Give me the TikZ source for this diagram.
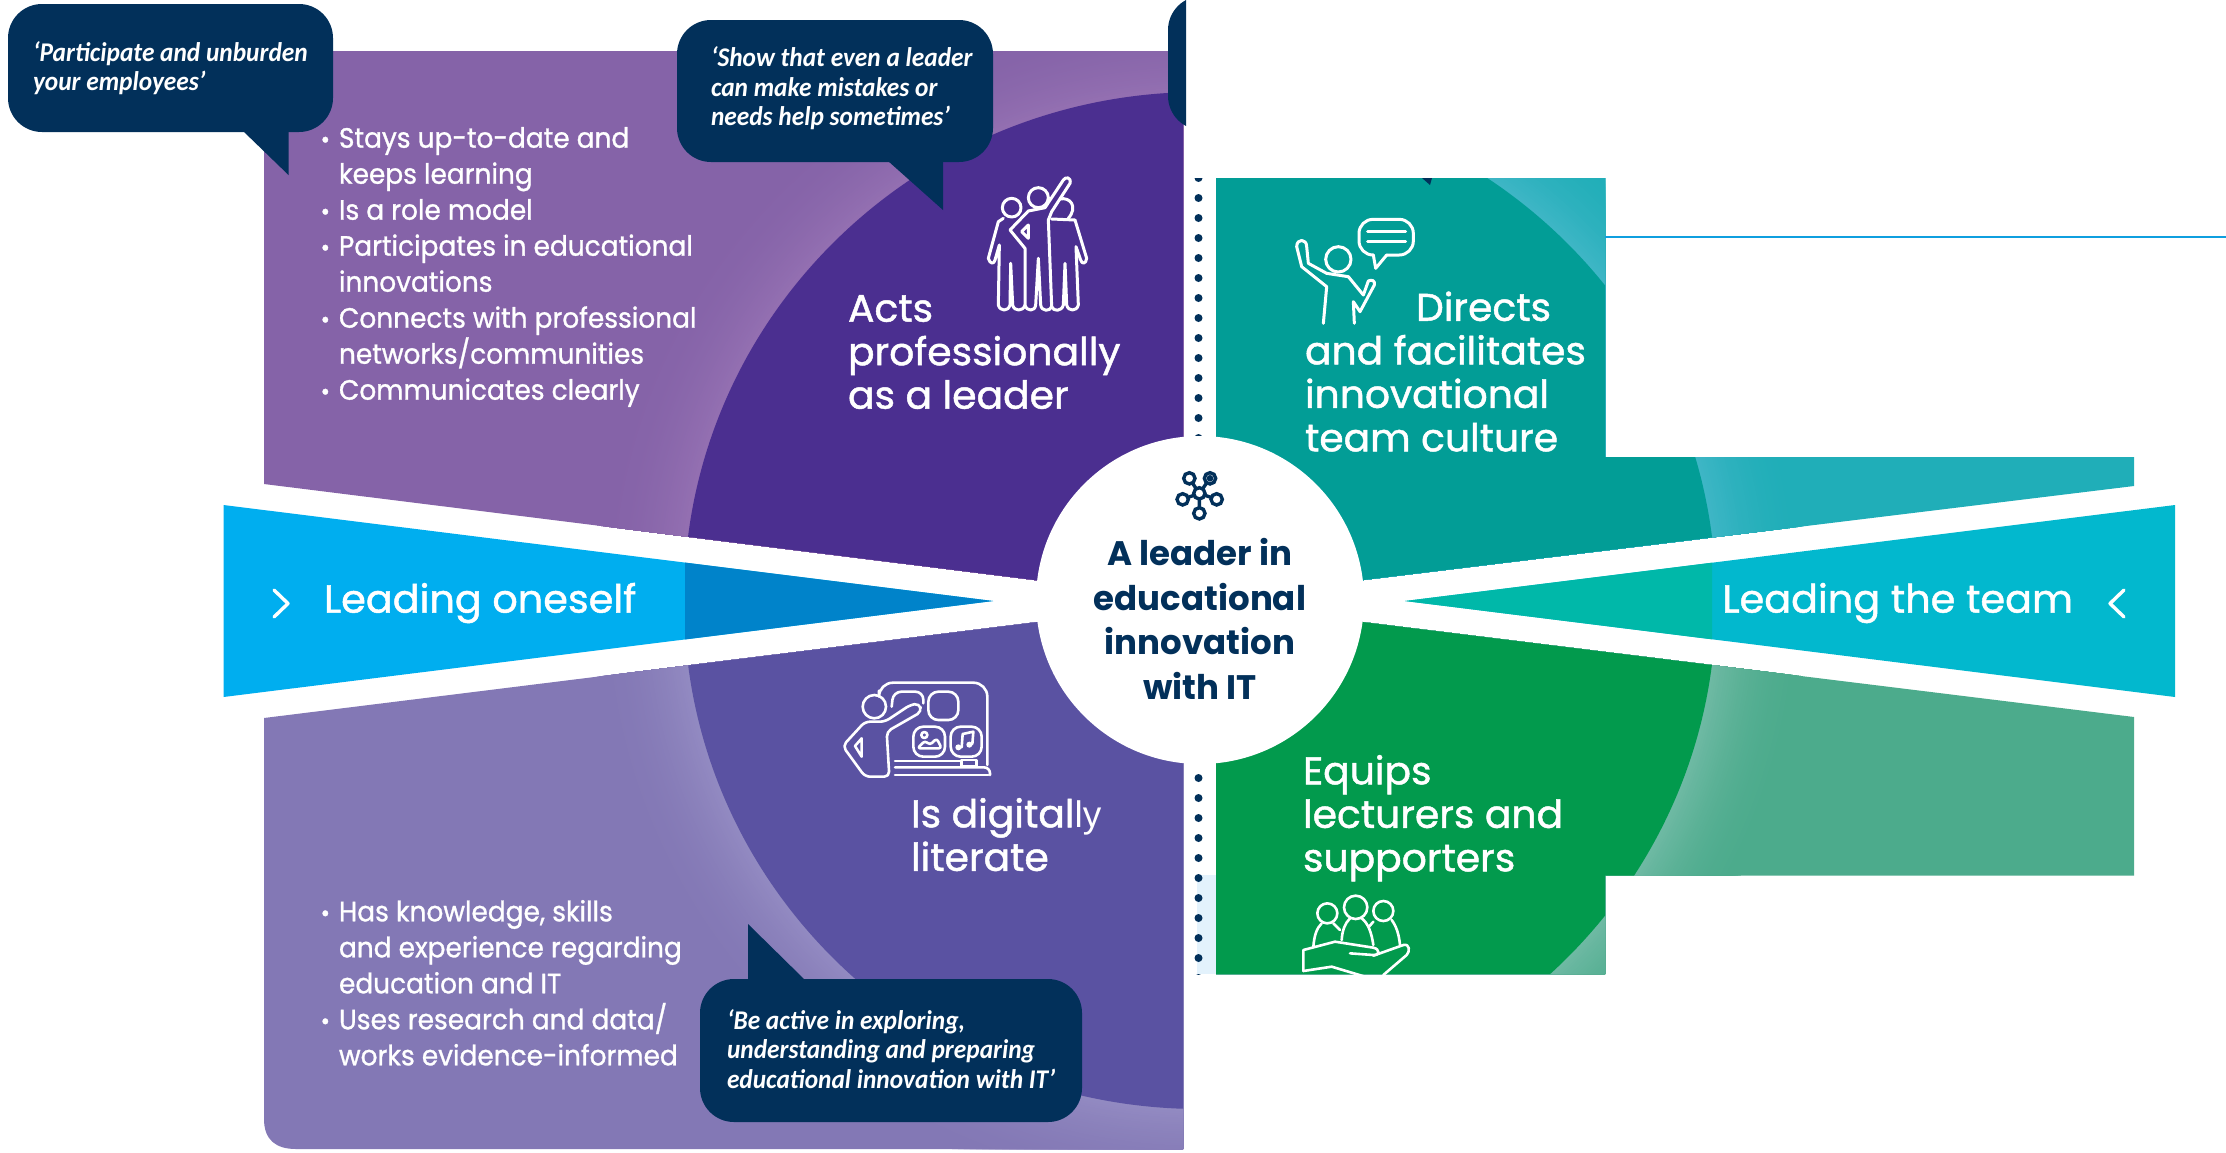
\documentclass[tikz,border=0pt]{standalone}
\usepackage{fontspec}
\setmainfont{Poppins}
\newfontfamily\headf[FakeBold=1.2,FakeStretch=1.02]{Poppins}
\newfontfamily\centf[FakeStretch=1.0]{Poppins}
\newfontfamily\bulf[FakeBold=1.0,FakeStretch=0.943]{Poppins}
\newfontfamily\thinf{Liberation Sans}
\newfontfamily\quotef[FakeStretch=0.94]{Carlito}
\definecolor{navy}{HTML}{02305A}
\definecolor{tlbase}{HTML}{8563A8}
\definecolor{tledge}{HTML}{9470B2}
\definecolor{tldark}{HTML}{4B2F90}
\definecolor{blbase}{HTML}{8378B5}
\definecolor{bledge}{HTML}{938BC2}
\definecolor{bldark}{HTML}{5A52A2}
\definecolor{trbase}{HTML}{20AEB8}
\definecolor{tredge}{HTML}{40B6C6}
\definecolor{trdark}{HTML}{029D96}
\definecolor{brbase}{HTML}{4CAB8C}
\definecolor{bredge}{HTML}{70BAA5}
\definecolor{brdark}{HTML}{029A4D}
\definecolor{stripblue}{HTML}{E3F2FC}
\definecolor{wedgeL}{HTML}{00AEEF}
\definecolor{wedgeLin}{HTML}{0083CA}
\definecolor{wedgeR}{HTML}{02B8CE}
\definecolor{wedgeRin}{HTML}{00B8A9}
\definecolor{ruleblue}{HTML}{0F9FDF}
\newcommand{\glowpanel}[3]{%
  \fill[#1] (-10,-10) rectangle (2240,1160);
  \foreach \rr in {40,39,...,1}{%
    \pgfmathtruncatemacro{\pp}{100*(1-\rr/40)*(1-\rr/40)}%
    \fill[#2!\pp!#1] (1200,600.5) ellipse[x radius=516+2.3*\rr,y radius=508.5+2.3*\rr];
  }%
  \fill[#3] (1200,600.5) ellipse[x radius=516,y radius=508.5];
}
\newcommand{\bul}{\llap{{\fontsize{24}{24}\selectfont\raisebox{0pt}{•}}\hspace{9pt}}}
\tikzset{
  head/.style={inner sep=0,outer sep=0,text=white,align=left,anchor=north west,font=\headf\fontsize{38.5}{43.5}\selectfont},
  bullets/.style={inner sep=0,outer sep=0,text=white,align=left,anchor=north west,font=\bulf\fontsize{28}{36}\selectfont},
  quotetext/.style={inner sep=0,outer sep=0,text=white,align=left,anchor=north west,font=\quotef\bfseries\itshape\fontsize{27}{29.5}\selectfont},
  bubble/.style={fill=navy,rounded corners=34},
  icon/.style={draw=white,line width=3pt,line join=round,line cap=round},
  iconthin/.style={draw=white,line width=2.6pt,line join=round,line cap=round},
  wedgelabel/.style={inner sep=0,outer sep=0,text=white,font=\headf\fontsize{39}{44}\selectfont}
}
\begin{document}
\begin{tikzpicture}[x=1pt,y=-1pt]
\useasboundingbox (0,0) rectangle (2226,1152);
% panels
\begin{scope}
  \clip (264,51) -- (1183,51) -- (1183,598.5) -- (264,484) -- cycle;
  \glowpanel{tlbase}{tledge}{tldark}
\end{scope}
\begin{scope}
  \clip (264,718) -- (264,1119) .. controls (264,1140) and (276,1149) .. (296,1149) -- (1183,1149) -- (1183,604) -- cycle;
  \glowpanel{blbase}{bledge}{bldark}
\end{scope}
\begin{scope}
  \clip (1216,178) -- (1605,178) -- (1605,457) -- (2134,457) -- (2134,486) -- (1216,598) -- cycle;
  \glowpanel{trbase}{tredge}{trdark}
\end{scope}
\begin{scope}
  \clip (1216,604) -- (2134,717) -- (2134,875.6) -- (1605,875.6) -- (1605,974) -- (1216,974) -- cycle;
  \glowpanel{brbase}{bredge}{brdark}
\end{scope}
% strip and dots
\fill[stripblue] (1197,875) rectangle (1216,974);
\begin{scope}
  \clip (1190,178) rectangle (1216,974);
  \foreach \yy in {178,198,...,978}{\fill[navy] (1198.5,\yy) circle[radius=4];}
\end{scope}
% wedges
\fill[wedgeL] (223.5,505) -- (993,601) -- (223.5,697) -- cycle;
\fill[wedgeLin] (685,562.6) -- (993,601) -- (685,639.4) -- cycle;
\fill[wedgeR] (2175,505) -- (1405,601) -- (2175,697) -- cycle;
\fill[wedgeRin] (1712,562.7) -- (1405,601) -- (1712,639.3) -- cycle;
% line
\draw[ruleblue,line width=2.5pt] (1605,237) -- (2226,237);
% centre
\node[circle,fill=white,minimum size=328pt,inner sep=0] (centre) at (1200,600) {};
\node[inner sep=0,text=navy,align=center,anchor=north,font=\centf\bfseries\fontsize{34}{44.7}\selectfont] (centretext) at (1200,538) {A leader in\\educational\\innovation\\with IT};
% molecule
\begin{scope}[shift={(1160,460)},scale=1/3,draw=navy,line width=3.4pt]
  \draw (118,100) -- (88,55) (118,100) -- (150,55) (118,100) -- (68,118) (118,100) -- (170,118) (118,100) -- (118,160);
  \foreach \mx/\my in {118/100,88/55,150/55,68/118,170/118,118/160}{\filldraw[fill=white] (\mx,\my) circle[radius=17];}
  \fill[navy] (150,55) circle[radius=10];
\end{scope}
% bubbles
\fill[bubble] (8,4) rectangle (333,132);
\fill[navy] (243,131) -- (288.5,175) -- (288.5,131) -- cycle;
\fill[bubble] (677,20) rectangle (993,162);
\fill[navy] (888,161) -- (943,210) -- (943,161) -- cycle;
\fill[bubble] (700,979) rectangle (1082,1122);
\fill[navy] (748,924) -- (748,980) -- (805,980) -- cycle;
\begin{scope}
  \clip (1160,0) rectangle (1186,140);
  \fill[bubble] (1168,-4) rectangle (1320,130);
\end{scope}
\fill[navy] (1422,178) -- (1430,185) -- (1432,178) -- cycle;
% quotes
\node[quotetext] (q1) at (33,41.5) {‘Participate and unburden\\your employees’};
\node[quotetext] (q2) at (711,47) {‘Show that even a leader\\can make mistakes or\\needs help sometimes’};
\node[quotetext] (q3) at (727,1009.5) {‘Be active in exploring,\\understanding and preparing\\educational innovation with IT’};
% headings
\node[head] (acts) at (848,295) {Acts\\professionally\\as a leader};
\node[head] (digi) at (911,798) {Is digital{\thinf\fontsize{37}{43.5}\selectfont ly}\\literate};
\node[head] (directs) at (1305,291.5) {\hspace{111pt}Directs\\and facilitates\\innovational\\team culture};
\node[head] (equips) at (1303,755) {Equips\\lecturers and\\supporters};
% bullets
\node[bullets] (topbul) at (339,127) {\bul Stays up-to-date and\\keeps learning\\\bul Is a role model\\\bul Participates in educational\\innovations\\\bul Connects with professional\\networks/communities\\\bul Communicates clearly};
\node[bullets] (botbul) at (339,900) {\bul Has knowledge, skills\\and experience regarding\\education and IT\\\bul Uses research and data/\\works evidence-informed};
% wedge labels
\node[wedgelabel,anchor=west] (lead1) at (324,603) {Leading oneself};
\node[wedgelabel,anchor=east] (lead2) at (2073,603) {Leading the team};
\draw[icon,line width=3.4pt] (274,590) -- (288,603.5) -- (274,617);
\draw[icon,line width=3.4pt] (2124,590) -- (2110,603.5) -- (2124,617);
% icon: three people
\begin{scope}[shift={(970,165)},scale=1/3,icon]
  \draw (125,128) circle[radius=28];
  \draw (205,98) circle[radius=30];
  \draw (270,102) .. controls (300,95) and (325,125) .. (295,160);
  \draw (175,138) -- (120,195) -- (165,250) -- (165,420) .. controls (170,440) and (195,440) .. (197,420) -- (205,280) -- (212,420) .. controls (215,440) and (240,440) .. (245,425) -- (235,165) -- (245,140) -- (300,55) .. controls (305,35) and (285,35) .. (280,45) -- (225,128) -- cycle;
  \draw (175,180) -- (155,200) -- (175,220) -- cycle;
  \draw (100,160) -- (85,170) -- (55,280) .. controls (60,298) and (72,298) .. (75,285) -- (88,240) -- (85,420) .. controls (90,440) and (115,440) .. (120,420) -- (122,295) -- (128,420) .. controls (132,440) and (160,440) .. (165,420);
  \draw (245,162) -- (315,165) -- (350,280) .. controls (348,298) and (335,298) .. (332,285) -- (318,245) -- (325,420) .. controls (320,440) and (295,440) .. (290,420) -- (285,295) -- (280,420) .. controls (275,440) and (250,440) .. (245,425);
\end{scope}
% icon: teacher with speech bubble
\begin{scope}[shift={(1285,205)},scale=1/3,icon]
  \draw (160,163) circle[radius=38];
  \draw[rounded corners=14] (265,150) -- (222,150) -- (222,43) -- (385,43) -- (385,150) -- (305,150);
  \draw (265,150) -- (272,190) -- (305,150);
  \draw (248,78) -- (362,78) (248,110) -- (362,110);
  \draw (115,355) -- (125,245) -- (50,185) -- (35,125) .. controls (35,100) and (65,100) .. (65,125) -- (70,175) -- (125,205) -- (190,215) -- (235,270) -- (250,228) .. controls (260,222) and (272,228) .. (268,240) -- (225,320) -- (205,290) -- (208,355);
\end{scope}
% icon: digital board
\begin{scope}[shift={(830,670)},scale=1/3,iconthin]
  \draw[rounded corners=14] (147,62) -- (147,38) -- (472,38) -- (472,285);
  \draw (133,110) circle[radius=35];
  \draw[rounded corners=8] (185,110) -- (190,65) -- (280,65) -- (280,100);
  \draw[rounded corners=10] (295,65) rectangle (385,150);
  \draw[rounded corners=10] (250,170) rectangle (345,260);
  \draw[rounded corners=10] (362,170) rectangle (455,260);
  \draw[rounded corners=5] (105,155) -- (165,155) -- (240,105) -- (268,100) -- (275,125) -- (170,185) -- (178,320) -- (105,320) -- (38,228) -- cycle;
  \draw (95,205) -- (75,228) -- (95,260) -- cycle;
  \draw (195,273) -- (392,273) (195,315) -- (475,315);
  \draw[rounded corners=6] (195,292) -- (480,292) -- (480,315);
  \draw (395,270) rectangle (440,290);
  \draw (283,195) circle[radius=9];
  \draw[rounded corners=3] (262,235) -- (285,212) -- (300,225) -- (320,205) -- (335,235) -- cycle;
  \draw (395,232) -- (398,192) -- (430,185) -- (427,222);
  \fill[white] (385,232) circle[radius=9] (418,224) circle[radius=9];
\end{scope}
% icon: hand holding people
\begin{scope}
  \clip (1290,880) rectangle (1430,974);
  \begin{scope}[shift={(1295,885)},scale=1/3,iconthin]
    \draw (97,85) circle[radius=30];
    \draw (182,67) circle[radius=35];
    \draw (265,78) circle[radius=30];
    \draw (55,185) .. controls (58,150) and (65,130) .. (80,115);
    \draw (115,115) -- (135,135);
    \draw (140,165) .. controls (142,135) and (150,115) .. (165,100);
    \draw (200,100) .. controls (220,115) and (230,145) .. (235,180);
    \draw (235,110) -- (222,125);
    \draw (290,105) .. controls (305,125) and (312,150) .. (315,180);
    \draw (25,258) -- (25,195) -- (120,170) -- (235,188) .. controls (255,192) and (255,212) .. (235,210) -- (165,205);
    \draw (235,212) -- (325,180) .. controls (345,175) and (345,200) .. (335,210) -- (265,270);
    \draw (25,258) -- (110,245) -- (210,275);
  \end{scope}
\end{scope}
\end{tikzpicture}
\end{document}
